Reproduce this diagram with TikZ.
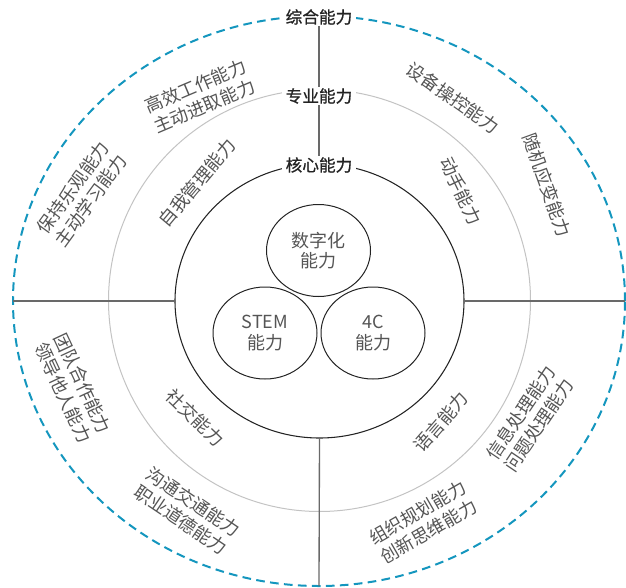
\documentclass[tikz,border=0pt]{standalone}
\usepackage{fontspec}
\setmainfont{Noto Sans CJK SC}
\newfontfamily\hdfont[FakeBold=0.8]{Noto Sans CJK SC}
\usetikzlibrary{shapes.geometric}
\definecolor{dashblue}{RGB}{20,150,190}
\definecolor{linegray}{RGB}{105,105,105}
\definecolor{ringgray}{RGB}{195,195,195}
\definecolor{txtgray}{RGB}{85,85,85}
\definecolor{dark}{RGB}{35,35,35}
\begin{document}
\begin{tikzpicture}[x=0.75pt,y=-0.75pt,
  outerring/.style={ellipse, draw=dashblue, line width=1.5pt, dash pattern=on 6.5pt off 4pt, inner sep=0pt, outer sep=0pt, minimum width=459pt, minimum height=427.5pt},
  midring/.style={draw=ringgray, line width=0.75pt},
  corering/.style={ellipse, draw=dark, line width=0.8pt, inner sep=0pt, outer sep=0pt, minimum width=216.75pt, minimum height=205.5pt},
  smallring/.style={ellipse, draw=dark, line width=0.75pt, inner sep=0pt, outer sep=0pt, minimum width=78pt, minimum height=69pt, align=center, font=\fontsize{13.5pt}{15.5pt}\selectfont, text=txtgray},
  head/.style={fill=white, inner xsep=3pt, inner ysep=1pt, font=\hdfont\fontsize{12.5pt}{14pt}\selectfont, text=dark},
  lbl/.style={align=center, font=\fontsize{13.5pt}{16.5pt}\selectfont, text=txtgray, inner sep=0pt},
  conn/.style={draw=linegray, line width=1pt}
]
\useasboundingbox (0,0) rectangle (626,587);
% rings
\node[outerring] (outer) at (319,301) {};
\draw[midring] (319.5,300.5) circle[radius=211];
\node[corering] (core) at (319.5,301) {};
% inner abilities
\node[smallring] (digi) at (318.5,250.5) {数字化\\能力};
\node[smallring] (stem) at (265,333) {STEM\\能力};
\node[smallring] (fourc) at (373,333) {4C\\能力};
% headings
\node[head] (zh) at (319,17) {综合能力};
\node[head] (zy) at (319,96) {专业能力};
\node[head] (hx) at (319,165) {核心能力};
% connectors
\draw[conn] (zh.south) -- (zy.north);
\draw[conn] (zy.south) -- (hx.north);
\draw[conn] (core.south) -- (outer.south);
\draw[conn] (outer.west) -- (core.west);
\draw[conn] (core.east) -- (outer.east);
% rotated labels
\node[lbl, rotate=23] (l1) at (200,96) {高效工作能力\\主动进取能力};
\node[lbl, rotate=54] (l2) at (82,194) {保持乐观能力\\主动学习能力};
\node[lbl, rotate=50] (l3) at (197,183) {自我管理能力};
\node[lbl, rotate=-35] (l4) at (453,98) {设备操控能力};
\node[lbl, rotate=-70] (l5) at (547,185) {随机应变能力};
\node[lbl, rotate=-64] (l6) at (461,191) {动手能力};
\node[lbl, rotate=-65] (l7) at (73,388) {团队合作能力\\领导他人能力};
\node[lbl, rotate=-44] (l8) at (195,418) {社交能力};
\node[lbl, rotate=-34] (l9) at (187,511) {沟通交通能力\\职业道德能力};
\node[lbl, rotate=49] (l10) at (441,422) {语言能力};
\node[lbl, rotate=56] (l11) at (530,419) {信息处理能力\\问题处理能力};
\node[lbl, rotate=30] (l12) at (423,522) {组织规划能力\\创新思维能力};
\end{tikzpicture}
\end{document}
